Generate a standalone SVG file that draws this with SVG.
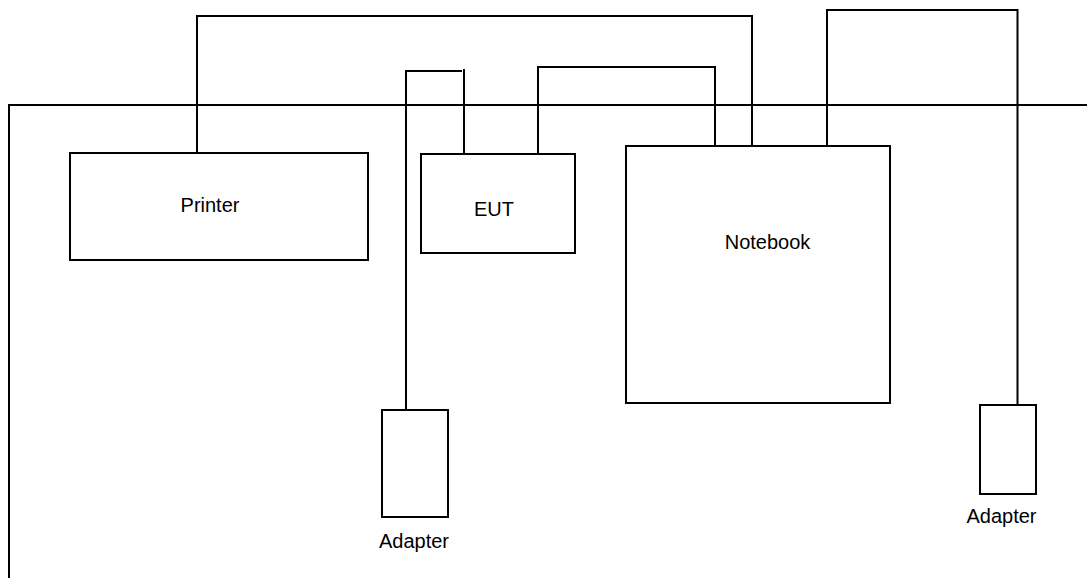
<svg xmlns="http://www.w3.org/2000/svg" width="1087" height="578" viewBox="0 0 1087 578">
<style>
.box{fill:#fff;stroke:#000;stroke-width:2}
.ln{fill:none;stroke:#000;stroke-width:2}
.t{font-family:"Liberation Sans",Arial,sans-serif;font-size:20px;fill:#000;text-anchor:middle}
</style>
<rect width="1087" height="578" fill="#fff"/>
<g id="frame"><path class="ln" d="M9,578 V105 H1087"/></g>
<g id="connectors">
<path class="ln" d="M197,153 V16 H752 V146"/>
<path class="ln" d="M406,410 V71 H462"/>
<path class="ln" d="M464,69 V154"/>
<path class="ln" d="M538,154 V67 H715 V146"/>
<path class="ln" d="M827,146 V10 H1017.5 V405"/>
</g>
<g id="printer"><rect class="box" x="70" y="153" width="298" height="107"/><text class="t" x="210" y="212">Printer</text></g>
<g id="eut"><rect class="box" x="421" y="154" width="154" height="99"/><text class="t" x="494" y="216">EUT</text></g>
<g id="notebook"><rect class="box" x="626" y="146" width="264" height="257"/><text class="t" x="767.5" y="249">Notebook</text></g>
<g id="adapter1"><rect class="box" x="382" y="410" width="66" height="107"/><text class="t" x="414" y="548">Adapter</text></g>
<g id="adapter2"><rect class="box" x="980" y="405" width="56" height="89"/><text class="t" x="1001.5" y="523">Adapter</text></g>
</svg>
